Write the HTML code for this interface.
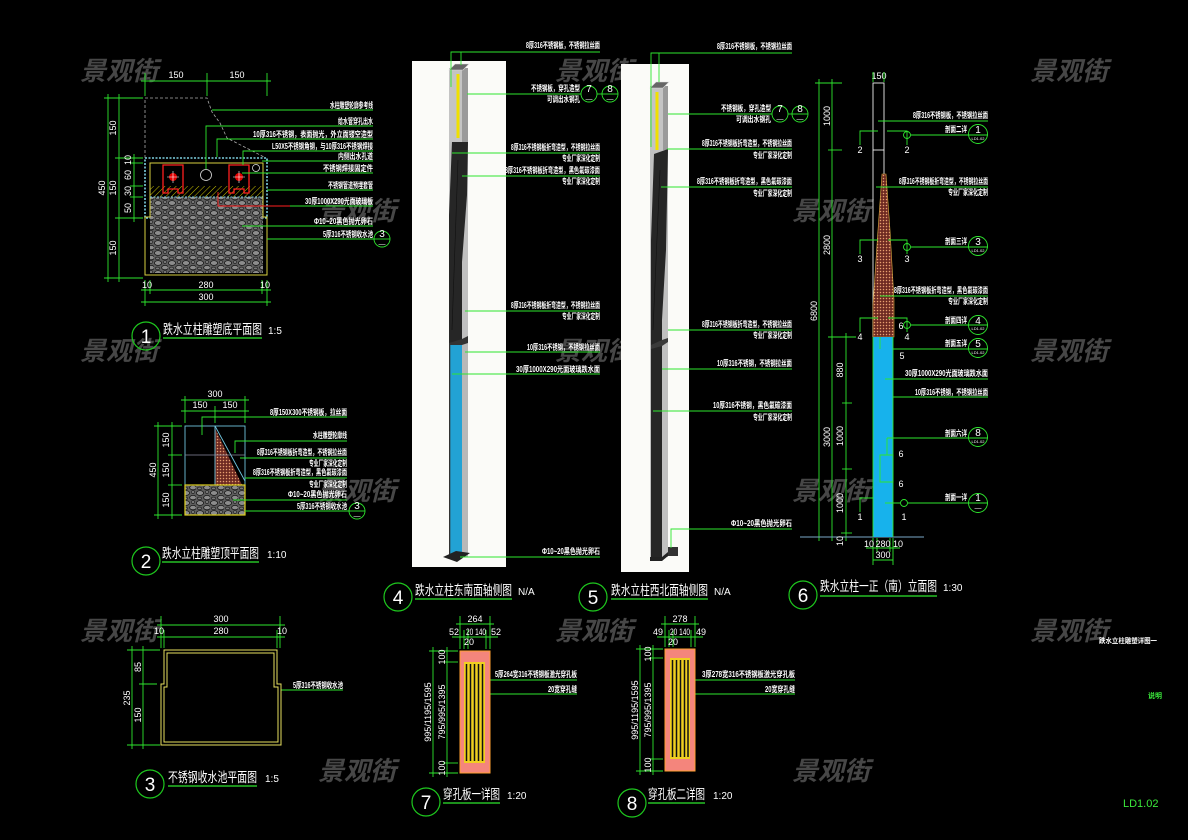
<!DOCTYPE html>
<html><head><meta charset="utf-8"><style>
html,body{margin:0;padding:0;background:#000;}
svg{display:block}
text{font-family:"Liberation Sans","Noto Sans CJK SC",sans-serif;fill:#fff;}
.s{font-size:8px;font-weight:bold;}
.d{font-size:9px;}
.t{font-size:13.5px;}
.sc{font-size:10px;}
.wm{font-size:26px;font-style:italic;font-weight:bold;fill:#474747;}
.g{stroke:#2ee62e;stroke-width:0.9;fill:none;}
.cn{font-size:19px;text-anchor:middle;}
</style></head><body>
<svg width="1188" height="840" viewBox="0 0 1188 840" xmlns="http://www.w3.org/2000/svg">
<defs>
<pattern id="gr" width="14" height="10" patternUnits="userSpaceOnUse">
<rect width="14" height="10" fill="#5e5e5e"/>
<ellipse cx="4" cy="3" rx="3.6" ry="2.4" fill="#8c8c8c" stroke="#151515" stroke-width="0.8"/>
<ellipse cx="11" cy="7.6" rx="3.4" ry="2.2" fill="#8c8c8c" stroke="#151515" stroke-width="0.8"/>
<ellipse cx="11" cy="2" rx="1.8" ry="1.4" fill="#777" stroke="#151515" stroke-width="0.6"/>
<ellipse cx="3.5" cy="8.4" rx="2" ry="1.3" fill="#777" stroke="#151515" stroke-width="0.6"/>
</pattern>
<pattern id="ht" width="4" height="4" patternUnits="userSpaceOnUse" patternTransform="rotate(45)">
<rect width="4" height="4" fill="#000"/>
<line x1="0" y1="0" x2="0" y2="4" stroke="#c8c000" stroke-width="1"/>
</pattern>
<pattern id="rd" width="3" height="3" patternUnits="userSpaceOnUse">
<rect width="3" height="3" fill="#6e2a22"/>
<circle cx="1.5" cy="1.5" r="0.75" fill="#e8a070"/>
</pattern>
</defs>
<rect width="1188" height="840" fill="#000"/>

<!-- watermarks -->
<g>
<text class="wm" x="80" y="80">景观街</text>
<text class="wm" x="555" y="80">景观街</text>
<text class="wm" x="1030" y="80">景观街</text>
<text class="wm" x="318" y="220">景观街</text>
<text class="wm" x="792" y="220">景观街</text>
<text class="wm" x="80" y="360">景观街</text>
<text class="wm" x="555" y="360">景观街</text>
<text class="wm" x="1030" y="360">景观街</text>
<text class="wm" x="318" y="500">景观街</text>
<text class="wm" x="792" y="500">景观街</text>
<text class="wm" x="80" y="640">景观街</text>
<text class="wm" x="555" y="640">景观街</text>
<text class="wm" x="1030" y="640">景观街</text>
<text class="wm" x="318" y="780">景观街</text>
<text class="wm" x="792" y="780">景观街</text>
</g>

<!-- ================= DETAIL 1 ================= -->
<g>
<g class="g">
<line x1="141" y1="81" x2="271" y2="81"/>
<line x1="145" y1="73" x2="145" y2="96"/>
<line x1="207" y1="73" x2="207" y2="96"/>
<line x1="267" y1="73" x2="267" y2="96"/>
<line x1="108" y1="94" x2="108" y2="282"/>
<line x1="119" y1="94" x2="119" y2="282"/>
<line x1="134" y1="154" x2="134" y2="222"/>
<line x1="104" y1="98" x2="143" y2="98"/>
<line x1="104" y1="278" x2="143" y2="278"/>
<line x1="115" y1="158" x2="143" y2="158"/>
<line x1="115" y1="218" x2="143" y2="218"/>
<line x1="130" y1="163" x2="143" y2="163"/>
<line x1="130" y1="186" x2="143" y2="186"/>
<line x1="130" y1="197" x2="143" y2="197"/>
<line x1="141" y1="290" x2="271" y2="290"/>
<line x1="141" y1="302" x2="271" y2="302"/>
<line x1="145" y1="280" x2="145" y2="306"/>
<line x1="150" y1="280" x2="150" y2="294"/>
<line x1="262" y1="280" x2="262" y2="294"/>
<line x1="267" y1="280" x2="267" y2="306"/>
</g>
<text class="d" x="176" y="78" text-anchor="middle">150</text>
<text class="d" x="237" y="78" text-anchor="middle">150</text>
<text class="d" transform="translate(105,188) rotate(-90)" text-anchor="middle">450</text>
<text class="d" transform="translate(116,128) rotate(-90)" text-anchor="middle">150</text>
<text class="d" transform="translate(116,188) rotate(-90)" text-anchor="middle">150</text>
<text class="d" transform="translate(116,248) rotate(-90)" text-anchor="middle">150</text>
<text class="d" transform="translate(131,160) rotate(-90)" text-anchor="middle">10</text>
<text class="d" transform="translate(131,175) rotate(-90)" text-anchor="middle">60</text>
<text class="d" transform="translate(131,191) rotate(-90)" text-anchor="middle">30</text>
<text class="d" transform="translate(131,208) rotate(-90)" text-anchor="middle">50</text>
<text class="d" x="147" y="288" text-anchor="middle">10</text>
<text class="d" x="206" y="288" text-anchor="middle">280</text>
<text class="d" x="265" y="288" text-anchor="middle">10</text>
<text class="d" x="206" y="300" text-anchor="middle">300</text>
<!-- shape -->
<path d="M145,158 L145,98 L207,98 L212,112 L220,123 L227,138 L264,157" fill="none" stroke="#aaa" stroke-width="0.8" stroke-dasharray="3 2"/>
<rect x="145" y="158" width="122" height="60" fill="none" stroke="#7ecfe0" stroke-width="1.6" stroke-dasharray="2 1.5"/>
<rect x="150" y="186" width="113" height="11" fill="url(#ht)"/>
<rect x="150" y="197" width="113" height="76" fill="url(#gr)"/>
<path d="M150,163 L150,217 L145,217 L145,275 L267,275 L267,217 L263,217 L263,163 Z" fill="none" stroke="#d8d040" stroke-width="1"/>
<line x1="150" y1="197" x2="263" y2="197" stroke="#7ecfe0" stroke-width="1" stroke-dasharray="2 1.5"/>
<path d="M163,165 h20 v28 h-5 v-4 h-10 v4 h-5 z" fill="none" stroke="#ff2020" stroke-width="1.3"/>
<circle cx="173" cy="177" r="4" fill="#e00000"/>
<path d="M167,177 h12 M173,171 v12" stroke="#fff" stroke-width="0.6"/>
<path d="M229,165 h20 v28 h-5 v-4 h-10 v4 h-5 z" fill="none" stroke="#ff2020" stroke-width="1.3"/>
<circle cx="239" cy="177" r="4" fill="#e00000"/>
<path d="M233,177 h12 M239,171 v12" stroke="#fff" stroke-width="0.6"/>
<circle cx="206" cy="175" r="5.5" fill="none" stroke="#ddd" stroke-width="0.8"/>
<circle cx="256" cy="168" r="3.5" fill="none" stroke="#ddd" stroke-width="0.8"/>
<!-- leaders -->
<g class="g">
<path d="M212,110 H373"/>
<path d="M206,169 V126 H373"/>
<path d="M217,157 V139 H373"/>
<path d="M243,165 V151 H373"/>
<path d="M262,161 H373"/>
<path d="M242,173 H373"/>
<path d="M267,190 H373"/>
<path d="M290,206 H373"/>
<path d="M242,226 H373"/>
<path d="M267,239 H374"/>
</g>
<path d="M218,192 V206 H290" fill="none" stroke="#ff2020" stroke-width="0.9"/>
<text class="s" x="330" y="108" textLength="43" lengthAdjust="spacingAndGlyphs">水柱雕塑轮廓参考线</text>
<text class="s" x="338" y="124" textLength="35" lengthAdjust="spacingAndGlyphs">给水管穿孔出水</text>
<text class="s" x="253" y="137" textLength="120" lengthAdjust="spacingAndGlyphs">10厚316不锈钢，表面抛光，外立面镂空造型</text>
<text class="s" x="272" y="149" textLength="101" lengthAdjust="spacingAndGlyphs">L50X5不锈钢角钢，与10厚316不锈钢焊接</text>
<text class="s" x="338" y="159" textLength="35" lengthAdjust="spacingAndGlyphs">内侧出水孔道</text>
<text class="s" x="323" y="171" textLength="50" lengthAdjust="spacingAndGlyphs">不锈钢焊接固定件</text>
<text class="s" x="328" y="188" textLength="45" lengthAdjust="spacingAndGlyphs">不锈钢管道预埋套管</text>
<text class="s" x="305" y="204" textLength="68" lengthAdjust="spacingAndGlyphs">30厚1000X290光面玻璃板</text>
<text class="s" x="314" y="224" textLength="59" lengthAdjust="spacingAndGlyphs">Φ10~20黑色抛光卵石</text>
<text class="s" x="323" y="237" textLength="50" lengthAdjust="spacingAndGlyphs">5厚316不锈钢收水池</text>
<circle cx="382" cy="239" r="8" class="g"/>
<line x1="374" y1="239" x2="390" y2="239" class="g"/>
<text x="382" y="237" font-size="10" text-anchor="middle">3</text>
<text x="382" y="246" font-size="7" text-anchor="middle">—</text>
<!-- title -->
<circle cx="146" cy="336" r="14" class="g" style="stroke:#1ec81e;stroke-width:1.2"/>
<text class="cn" x="146" y="343">1</text>
<text class="t" x="163" y="334" textLength="99" lengthAdjust="spacingAndGlyphs">跌水立柱雕塑底平面图</text>
<text class="sc" x="268" y="334">1:5</text>
<line x1="163" y1="338" x2="262" y2="338" stroke="#2ee62e" stroke-width="1.2"/>
</g>

<!-- ================= DETAIL 2 ================= -->
<g>
<g class="g">
<line x1="181" y1="400" x2="249" y2="400"/>
<line x1="181" y1="411" x2="249" y2="411"/>
<line x1="185" y1="396" x2="185" y2="423"/>
<line x1="215" y1="406" x2="215" y2="423"/>
<line x1="245" y1="396" x2="245" y2="423"/>
<line x1="158" y1="422" x2="158" y2="519"/>
<line x1="172" y1="422" x2="172" y2="519"/>
<line x1="154" y1="426" x2="182" y2="426"/>
<line x1="168" y1="455" x2="182" y2="455"/>
<line x1="168" y1="485" x2="182" y2="485"/>
<line x1="154" y1="515" x2="182" y2="515"/>
</g>
<text class="d" x="215" y="397" text-anchor="middle">300</text>
<text class="d" x="200" y="408" text-anchor="middle">150</text>
<text class="d" x="230" y="408" text-anchor="middle">150</text>
<text class="d" transform="translate(156,470) rotate(-90)" text-anchor="middle">450</text>
<text class="d" transform="translate(169,440) rotate(-90)" text-anchor="middle">150</text>
<text class="d" transform="translate(169,470) rotate(-90)" text-anchor="middle">150</text>
<text class="d" transform="translate(169,500) rotate(-90)" text-anchor="middle">150</text>
<polygon points="215,428 242,485 215,485" fill="url(#rd)"/>
<rect x="185" y="426" width="60" height="59" fill="none" stroke="#6fc3dc" stroke-width="0.9"/>
<line x1="215" y1="426" x2="215" y2="485" stroke="#6fc3dc" stroke-width="0.9"/>
<line x1="215" y1="426" x2="245" y2="481" stroke="#6fc3dc" stroke-width="0.9"/>
<line x1="185" y1="455" x2="245" y2="455" stroke="#8a8aa0" stroke-width="0.8"/>
<rect x="185" y="485" width="60" height="30" fill="url(#gr)" stroke="#e0d020" stroke-width="1.2"/>
<g class="g">
<path d="M202,435 V417 H347"/>
<path d="M235,453 V441 H347"/>
<path d="M240,458 H347"/>
<path d="M245,478 H347"/>
<path d="M233,500 H347"/>
<path d="M245,511 H349"/>
</g>
<text class="s" x="270" y="415" textLength="77" lengthAdjust="spacingAndGlyphs">8厚150X300不锈钢板，拉丝面</text>
<text class="s" x="313" y="438" textLength="34" lengthAdjust="spacingAndGlyphs">水柱雕塑轮廓线</text>
<text class="s" x="257" y="455" textLength="90" lengthAdjust="spacingAndGlyphs">8厚316不锈钢板折弯造型，不锈钢拉丝面</text>
<text class="s" x="309" y="466" textLength="38" lengthAdjust="spacingAndGlyphs">专业厂家深化定制</text>
<text class="s" x="253" y="475" textLength="94" lengthAdjust="spacingAndGlyphs">8厚316不锈钢板折弯造型，黑色氟碳漆面</text>
<text class="s" x="309" y="487" textLength="38" lengthAdjust="spacingAndGlyphs">专业厂家深化定制</text>
<text class="s" x="288" y="497" textLength="59" lengthAdjust="spacingAndGlyphs">Φ10~20黑色抛光卵石</text>
<text class="s" x="297" y="509" textLength="50" lengthAdjust="spacingAndGlyphs">5厚316不锈钢收水池</text>
<circle cx="357" cy="511" r="8" class="g"/>
<line x1="349" y1="511" x2="365" y2="511" class="g"/>
<text x="357" y="509" font-size="10" text-anchor="middle">3</text>
<text x="357" y="518" font-size="7" text-anchor="middle">—</text>
<circle cx="146" cy="561" r="14" class="g" style="stroke:#1ec81e;stroke-width:1.2"/>
<text class="cn" x="146" y="568">2</text>
<text class="t" x="162" y="558" textLength="97" lengthAdjust="spacingAndGlyphs">跌水立柱雕塑顶平面图</text>
<text class="sc" x="267" y="558">1:10</text>
<line x1="162" y1="562" x2="259" y2="562" stroke="#2ee62e" stroke-width="1.2"/>
</g>

<!-- ================= DETAIL 3 ================= -->
<g>
<g class="g">
<line x1="157" y1="625" x2="285" y2="625"/>
<line x1="157" y1="637" x2="285" y2="637"/>
<line x1="161" y1="616" x2="161" y2="648"/>
<line x1="164" y1="630" x2="164" y2="648"/>
<line x1="277" y1="630" x2="277" y2="648"/>
<line x1="280" y1="616" x2="280" y2="648"/>
<line x1="132" y1="646" x2="132" y2="749"/>
<line x1="143" y1="646" x2="143" y2="749"/>
<line x1="127" y1="650" x2="160" y2="650"/>
<line x1="139" y1="684" x2="157" y2="684"/>
<line x1="127" y1="745" x2="160" y2="745"/>
<path d="M281,690 H343"/>
</g>
<text class="d" x="221" y="622" text-anchor="middle">300</text>
<text class="d" x="159" y="634" text-anchor="middle">10</text>
<text class="d" x="221" y="634" text-anchor="middle">280</text>
<text class="d" x="282" y="634" text-anchor="middle">10</text>
<text class="d" transform="translate(130,698) rotate(-90)" text-anchor="middle">235</text>
<text class="d" transform="translate(141,667) rotate(-90)" text-anchor="middle">85</text>
<text class="d" transform="translate(141,715) rotate(-90)" text-anchor="middle">150</text>
<path d="M164,650 H277 V684 H281 V745 H161 V684 H164 Z" fill="none" stroke="#e8e060" stroke-width="1"/>
<path d="M167,653 H274 V687 H278 V742 H164 V687 H167 Z" fill="none" stroke="#e8e060" stroke-width="1"/>
<text class="s" x="293" y="688" textLength="50" lengthAdjust="spacingAndGlyphs">5厚316不锈钢收水池</text>
<circle cx="150" cy="784" r="14" class="g" style="stroke:#1ec81e;stroke-width:1.2"/>
<text class="cn" x="150" y="791">3</text>
<text class="t" x="168" y="782" textLength="89" lengthAdjust="spacingAndGlyphs">不锈钢收水池平面图</text>
<text class="sc" x="265" y="782">1:5</text>
<line x1="168" y1="786" x2="257" y2="786" stroke="#2ee62e" stroke-width="1.2"/>
</g>

<!-- ================= DETAIL 4 ================= -->
<g>
<rect x="412" y="61" width="94" height="506" fill="#fbfbf8"/>
<!-- cap -->
<rect x="449" y="68" width="19" height="75" fill="#c4c4c4"/>
<rect x="462" y="68" width="6" height="75" fill="#9a9a9a"/>
<rect x="456.5" y="74" width="3" height="64" fill="#f0e000"/>
<polygon points="449,70 455,64 469,64 463,70" fill="#666" stroke="#ddd" stroke-width="0.6"/>
<!-- twisted body -->
<rect x="449" y="142" width="19" height="201" fill="#c0c0c0"/>
<polygon points="452,142 468,142 467,195 462,262 462,343 449,343 449,215" fill="#262626"/>
<line x1="458" y1="160" x2="452" y2="330" stroke="#111" stroke-width="0.6"/>
<!-- lower -->
<rect x="450" y="343" width="12" height="214" fill="#22a2d4"/>
<rect x="462" y="343" width="6" height="214" fill="#b8b8b8"/>
<rect x="449" y="343" width="1.3" height="214" fill="#333"/>
<polygon points="449,343 462,339 468,336 468,343 462,345 449,345" fill="#333"/>
<polygon points="443,557 456,551 470,553 457,562" fill="#222"/>
<g class="g">
<path d="M451,87 V52 H600"/>
<path d="M461,65 V52"/>
<path d="M467,94 H581"/>
<path d="M597,94 H602"/>
<path d="M452,153 H600"/>
<path d="M462,176 H600"/>
<path d="M465,311 H600"/>
<path d="M465,352 H600"/>
<path d="M452,374 H600"/>
<path d="M460,557 H600"/>
</g>
<circle cx="589" cy="94" r="8" class="g"/>
<circle cx="610" cy="94" r="8" class="g"/>
<line x1="602" y1="94" x2="618" y2="94" class="g"/>
<text x="589" y="92" font-size="10" text-anchor="middle">7</text>
<text x="610" y="92" font-size="10" text-anchor="middle">8</text>
<text x="589" y="101" font-size="7" text-anchor="middle">—</text>
<text x="610" y="101" font-size="7" text-anchor="middle">—</text>
<text class="s" x="526" y="48" textLength="74" lengthAdjust="spacingAndGlyphs">8厚316不锈钢板，不锈钢拉丝面</text>
<text class="s" x="531" y="91" textLength="49" lengthAdjust="spacingAndGlyphs">不锈钢板，穿孔造型</text>
<text class="s" x="547" y="102" textLength="33" lengthAdjust="spacingAndGlyphs">可调出水钢孔</text>
<text class="s" x="511" y="150" textLength="89" lengthAdjust="spacingAndGlyphs">8厚316不锈钢板折弯造型，不锈钢拉丝面</text>
<text class="s" x="562" y="161" textLength="38" lengthAdjust="spacingAndGlyphs">专业厂家深化定制</text>
<text class="s" x="505" y="173" textLength="95" lengthAdjust="spacingAndGlyphs">8厚316不锈钢板折弯造型，黑色氟碳漆面</text>
<text class="s" x="562" y="184" textLength="38" lengthAdjust="spacingAndGlyphs">专业厂家深化定制</text>
<text class="s" x="511" y="308" textLength="89" lengthAdjust="spacingAndGlyphs">8厚316不锈钢板折弯造型，不锈钢拉丝面</text>
<text class="s" x="562" y="319" textLength="38" lengthAdjust="spacingAndGlyphs">专业厂家深化定制</text>
<text class="s" x="527" y="350" textLength="73" lengthAdjust="spacingAndGlyphs">10厚316不锈钢，不锈钢拉丝面</text>
<text class="s" x="516" y="372" textLength="84" lengthAdjust="spacingAndGlyphs">30厚1000X290光面玻璃跌水面</text>
<text class="s" x="542" y="554" textLength="58" lengthAdjust="spacingAndGlyphs">Φ10~20黑色抛光卵石</text>
<circle cx="398" cy="597" r="14" class="g" style="stroke:#1ec81e;stroke-width:1.2"/>
<text class="cn" x="398" y="604">4</text>
<text class="t" x="415" y="595" textLength="97" lengthAdjust="spacingAndGlyphs">跌水立柱东南面轴侧图</text>
<text class="sc" x="518" y="595">N/A</text>
<line x1="415" y1="599" x2="512" y2="599" stroke="#2ee62e" stroke-width="1.2"/>
</g>

<!-- ================= DETAIL 5 ================= -->
<g>
<rect x="621" y="64" width="68" height="508" fill="#fbfbf8"/>
<rect x="650" y="86" width="18" height="66" fill="#c4c4c4"/>
<rect x="663" y="86" width="5" height="66" fill="#9a9a9a"/>
<rect x="655.5" y="92" width="3" height="58" fill="#f0e000"/>
<polygon points="650,88 656,82 669,82 663,88" fill="#666" stroke="#ddd" stroke-width="0.6"/>
<rect x="650" y="150" width="18" height="407" fill="#c0c0c0"/>
<polygon points="654,154 668,149 666,250 662,320 662,557 651,557 651,240" fill="#262626"/>
<line x1="660" y1="170" x2="653" y2="330" stroke="#111" stroke-width="0.6"/>
<polygon points="651,345 662,340 668,338 668,342 662,346 651,349" fill="#3a3a3a"/>
<rect x="668" y="547" width="10" height="9" fill="#333"/>
<polygon points="650,557 662,557 668,552 668,556 662,561 650,561" fill="#222"/>
<g class="g">
<path d="M651,147 V53 H792"/>
<path d="M659,82 V53"/>
<path d="M668,114 H772"/>
<path d="M788,114 H792"/>
<path d="M667,149 H792"/>
<path d="M661,187 H792"/>
<path d="M668,330 H792"/>
<path d="M662,369 H792"/>
<path d="M653,411 H792"/>
<path d="M671,548 V529 H792"/>
</g>
<circle cx="780" cy="114" r="8" class="g"/>
<circle cx="800" cy="114" r="8" class="g"/>
<line x1="792" y1="114" x2="808" y2="114" class="g"/>
<text x="780" y="112" font-size="10" text-anchor="middle">7</text>
<text x="800" y="112" font-size="10" text-anchor="middle">8</text>
<text x="780" y="121" font-size="7" text-anchor="middle">—</text>
<text x="800" y="121" font-size="7" text-anchor="middle">—</text>
<text class="s" x="717" y="49" textLength="75" lengthAdjust="spacingAndGlyphs">8厚316不锈钢板，不锈钢拉丝面</text>
<text class="s" x="721" y="111" textLength="50" lengthAdjust="spacingAndGlyphs">不锈钢板，穿孔造型</text>
<text class="s" x="736" y="122" textLength="35" lengthAdjust="spacingAndGlyphs">可调出水钢孔</text>
<text class="s" x="702" y="146" textLength="90" lengthAdjust="spacingAndGlyphs">8厚316不锈钢板折弯造型，不锈钢拉丝面</text>
<text class="s" x="753" y="158" textLength="39" lengthAdjust="spacingAndGlyphs">专业厂家深化定制</text>
<text class="s" x="697" y="184" textLength="95" lengthAdjust="spacingAndGlyphs">8厚316不锈钢板折弯造型，黑色氟碳漆面</text>
<text class="s" x="753" y="196" textLength="39" lengthAdjust="spacingAndGlyphs">专业厂家深化定制</text>
<text class="s" x="702" y="327" textLength="90" lengthAdjust="spacingAndGlyphs">8厚316不锈钢板折弯造型，不锈钢拉丝面</text>
<text class="s" x="753" y="338" textLength="39" lengthAdjust="spacingAndGlyphs">专业厂家深化定制</text>
<text class="s" x="717" y="366" textLength="75" lengthAdjust="spacingAndGlyphs">10厚316不锈钢，不锈钢拉丝面</text>
<text class="s" x="713" y="408" textLength="79" lengthAdjust="spacingAndGlyphs">10厚316不锈钢，黑色氟碳漆面</text>
<text class="s" x="753" y="420" textLength="39" lengthAdjust="spacingAndGlyphs">专业厂家深化定制</text>
<text class="s" x="731" y="526" textLength="61" lengthAdjust="spacingAndGlyphs">Φ10~20黑色抛光卵石</text>
<circle cx="593" cy="597" r="14" class="g" style="stroke:#1ec81e;stroke-width:1.2"/>
<text class="cn" x="593" y="604">5</text>
<text class="t" x="611" y="595" textLength="97" lengthAdjust="spacingAndGlyphs">跌水立柱西北面轴侧图</text>
<text class="sc" x="714" y="595">N/A</text>
<line x1="611" y1="599" x2="708" y2="599" stroke="#2ee62e" stroke-width="1.2"/>
</g>

<!-- ================= DETAIL 6 ================= -->
<g>
<!-- left dims -->
<g class="g">
<line x1="819" y1="79" x2="819" y2="541"/>
<line x1="832" y1="79" x2="832" y2="541"/>
<line x1="846" y1="333" x2="846" y2="541"/>
<line x1="815" y1="83" x2="842" y2="83"/>
<line x1="828" y1="150" x2="842" y2="150"/>
<line x1="828" y1="337" x2="856" y2="337"/>
<line x1="842" y1="403" x2="852" y2="403"/>
<line x1="842" y1="469" x2="852" y2="469"/>
<line x1="841" y1="533" x2="852" y2="533"/>
</g>
<line x1="800" y1="537" x2="924" y2="537" stroke="#7aa8c8" stroke-width="1"/>
<text class="d" transform="translate(830,116) rotate(-90)" text-anchor="middle">1000</text>
<text class="d" transform="translate(830,245) rotate(-90)" text-anchor="middle">2800</text>
<text class="d" transform="translate(817,311) rotate(-90)" text-anchor="middle">6800</text>
<text class="d" transform="translate(830,437) rotate(-90)" text-anchor="middle">3000</text>
<text class="d" transform="translate(843,370) rotate(-90)" text-anchor="middle">880</text>
<text class="d" transform="translate(843,436) rotate(-90)" text-anchor="middle">1000</text>
<text class="d" transform="translate(843,503) rotate(-90)" text-anchor="middle">1000</text>
<text class="d" transform="translate(843,541) rotate(-90)" text-anchor="middle">10</text>
<!-- column -->
<text class="d" x="879" y="79" text-anchor="middle">150</text>
<line x1="873" y1="72" x2="873" y2="82" class="g"/>
<line x1="884" y1="72" x2="884" y2="82" class="g"/>
<rect x="873" y="83" width="11" height="67" fill="none" stroke="#eee" stroke-width="0.9"/>
<line x1="873" y1="150" x2="873" y2="337" stroke="#eee" stroke-width="0.9"/>
<line x1="884" y1="150" x2="884" y2="178" stroke="#eee" stroke-width="0.9"/>
<polygon points="882,174 886,174 890,230 894,300 894,337 873,337 873,305 878,230" fill="url(#rd)" stroke="#d8a840" stroke-width="0.6"/>
<rect x="873" y="337" width="20" height="200" fill="#17b2ec"/>
<line x1="873" y1="337" x2="873" y2="537" stroke="#2ee62e" stroke-width="0.9"/>
<line x1="893" y1="337" x2="893" y2="537" stroke="#2ee62e" stroke-width="0.9"/>
<!-- section marks -->
<g class="g">
<path d="M860,145 V131 H878"/>
<path d="M887,131 H907 V145"/>
<path d="M860,254 V240 H878"/>
<path d="M888,240 H907 V254"/>
<path d="M860,332 V318 H878"/>
<path d="M888,318 H907 V332"/>
<path d="M860,512 V498 H873"/>
<path d="M880,337 V349"/>
<path d="M880,455 H893 V482 H880 Z"/>
<path d="M887,438 V455"/>
</g>
<text class="d" x="860" y="153" text-anchor="middle">2</text>
<text class="d" x="907" y="153" text-anchor="middle">2</text>
<text class="d" x="860" y="262" text-anchor="middle">3</text>
<text class="d" x="907" y="262" text-anchor="middle">3</text>
<text class="d" x="860" y="340" text-anchor="middle">4</text>
<text class="d" x="907" y="340" text-anchor="middle">4</text>
<text class="d" x="901" y="329" text-anchor="middle">6</text>
<text class="d" x="902" y="359" text-anchor="middle">5</text>
<text class="d" x="901" y="457" text-anchor="middle">6</text>
<text class="d" x="901" y="487" text-anchor="middle">6</text>
<text class="d" x="860" y="520" text-anchor="middle">1</text>
<text class="d" x="904" y="520" text-anchor="middle">1</text>
<g class="g">
<circle cx="907" cy="135" r="3.5"/>
<circle cx="907" cy="247" r="3.5"/>
<circle cx="907" cy="325" r="3.5"/>
<circle cx="904" cy="503" r="3.5"/>
<path d="M878,121 H988"/>
<path d="M911,135 H969"/>
<path d="M876,187 H988"/>
<path d="M911,247 H969"/>
<path d="M880,296 H988"/>
<path d="M911,325 H969"/>
<path d="M893,349 H969"/>
<path d="M885,379 H988"/>
<path d="M893,397 H988"/>
<path d="M887,438 H969"/>
<path d="M885,503 H900 M908,503 H969"/>
</g>
<g class="g">
<circle cx="978" cy="134" r="9.5"/><line x1="968" y1="135" x2="988" y2="135"/>
<circle cx="978" cy="246" r="9.5"/><line x1="968" y1="247" x2="988" y2="247"/>
<circle cx="978" cy="325" r="9.5"/><line x1="968" y1="325" x2="988" y2="325"/>
<circle cx="978" cy="348" r="9.5"/><line x1="968" y1="349" x2="988" y2="349"/>
<circle cx="978" cy="437" r="9.5"/><line x1="968" y1="438" x2="988" y2="438"/>
<circle cx="978" cy="503" r="9.5"/><line x1="968" y1="503" x2="988" y2="503"/>
</g>
<g font-size="10" text-anchor="middle">
<text x="978" y="133">1</text>
<text x="978" y="245">3</text>
<text x="978" y="324">4</text>
<text x="978" y="347">5</text>
<text x="978" y="436">8</text>
<text x="978" y="501">1</text>
</g>
<g font-size="4" text-anchor="middle">
<text x="978" y="140">LD1.02</text>
<text x="978" y="252">LD1.02</text>
<text x="978" y="330">LD1.02</text>
<text x="978" y="354">LD1.02</text>
<text x="978" y="443">LD1.02</text>
<text x="978" y="510" font-size="7">—</text>
</g>
<text class="s" x="913" y="118" textLength="75" lengthAdjust="spacingAndGlyphs">8厚316不锈钢板，不锈钢拉丝面</text>
<text class="s" x="945" y="132" textLength="22" lengthAdjust="spacingAndGlyphs">剖面二详</text>
<text class="s" x="899" y="184" textLength="89" lengthAdjust="spacingAndGlyphs">8厚316不锈钢板折弯造型，不锈钢拉丝面</text>
<text class="s" x="948" y="195" textLength="40" lengthAdjust="spacingAndGlyphs">专业厂家深化定制</text>
<text class="s" x="945" y="244" textLength="22" lengthAdjust="spacingAndGlyphs">剖面三详</text>
<text class="s" x="894" y="293" textLength="94" lengthAdjust="spacingAndGlyphs">8厚316不锈钢板折弯造型，黑色氟碳漆面</text>
<text class="s" x="948" y="304" textLength="40" lengthAdjust="spacingAndGlyphs">专业厂家深化定制</text>
<text class="s" x="945" y="323" textLength="22" lengthAdjust="spacingAndGlyphs">剖面四详</text>
<text class="s" x="945" y="346" textLength="22" lengthAdjust="spacingAndGlyphs">剖面五详</text>
<text class="s" x="905" y="376" textLength="83" lengthAdjust="spacingAndGlyphs">30厚1000X290光面玻璃跌水面</text>
<text class="s" x="915" y="395" textLength="73" lengthAdjust="spacingAndGlyphs">10厚316不锈钢，不锈钢拉丝面</text>
<text class="s" x="945" y="436" textLength="22" lengthAdjust="spacingAndGlyphs">剖面六详</text>
<text class="s" x="945" y="500" textLength="22" lengthAdjust="spacingAndGlyphs">剖面一详</text>
<!-- bottom dims -->
<g class="g">
<line x1="873" y1="538" x2="873" y2="565"/>
<line x1="877" y1="538" x2="877" y2="552"/>
<line x1="890" y1="538" x2="890" y2="552"/>
<line x1="893" y1="538" x2="893" y2="565"/>
<line x1="866" y1="548" x2="900" y2="548"/>
<line x1="873" y1="560" x2="893" y2="560"/>
</g>
<text class="d" x="869" y="547" text-anchor="middle">10</text>
<text class="d" x="883" y="547" text-anchor="middle">280</text>
<text class="d" x="898" y="547" text-anchor="middle">10</text>
<text class="d" x="883" y="558" text-anchor="middle">300</text>
<circle cx="803" cy="595" r="14" class="g" style="stroke:#1ec81e;stroke-width:1.2"/>
<text class="cn" x="803" y="602">6</text>
<text class="t" x="820" y="591" textLength="117" lengthAdjust="spacingAndGlyphs">跌水立柱一正（南）立面图</text>
<text class="sc" x="943" y="591">1:30</text>
<line x1="820" y1="596" x2="937" y2="596" stroke="#2ee62e" stroke-width="1.2"/>
</g>

<!-- ================= DETAIL 7 ================= -->
<g>
<g class="g">
<line x1="456" y1="624" x2="494" y2="624"/>
<line x1="452" y1="637" x2="498" y2="637"/>
<line x1="460" y1="616" x2="460" y2="649"/>
<line x1="464" y1="630" x2="464" y2="649"/>
<line x1="468" y1="630" x2="468" y2="649"/>
<line x1="486" y1="630" x2="486" y2="649"/>
<line x1="490" y1="616" x2="490" y2="649"/>
<line x1="433" y1="647" x2="433" y2="777"/>
<line x1="447" y1="647" x2="447" y2="777"/>
<line x1="429" y1="651" x2="458" y2="651"/>
<line x1="443" y1="662" x2="458" y2="662"/>
<line x1="443" y1="763" x2="458" y2="763"/>
<line x1="429" y1="773" x2="458" y2="773"/>
<path d="M487,680 H577"/>
<path d="M480,694 H577"/>
</g>
<text class="d" x="475" y="622" text-anchor="middle">264</text>
<text class="d" x="454" y="635" text-anchor="middle">52</text>
<text class="d" x="476" y="635" text-anchor="middle" textLength="20" lengthAdjust="spacingAndGlyphs">20 140</text>
<text class="d" x="496" y="635" text-anchor="middle">52</text>
<text class="d" x="469" y="645" text-anchor="middle">20</text>
<text class="d" transform="translate(431,712) rotate(-90)" text-anchor="middle">995/1195/1595</text>
<text class="d" transform="translate(445,712) rotate(-90)" text-anchor="middle">795/995/1395</text>
<text class="d" transform="translate(445,657) rotate(-90)" text-anchor="middle">100</text>
<text class="d" transform="translate(445,768) rotate(-90)" text-anchor="middle">100</text>
<rect x="460" y="651" width="30" height="122" fill="#f4857c" stroke="#ffa030" stroke-width="1"/>
<rect x="464" y="662" width="21" height="101" fill="#f0d020"/>
<g stroke="#111" stroke-width="1.5">
<line x1="466.5" y1="664" x2="466.5" y2="761"/>
<line x1="470.5" y1="664" x2="470.5" y2="761"/>
<line x1="474.5" y1="664" x2="474.5" y2="761"/>
<line x1="478.5" y1="664" x2="478.5" y2="761"/>
<line x1="482.5" y1="664" x2="482.5" y2="761"/>
</g>
<text class="s" x="495" y="677" textLength="82" lengthAdjust="spacingAndGlyphs">5厚264宽316不锈钢板激光穿孔板</text>
<text class="s" x="548" y="692" textLength="29" lengthAdjust="spacingAndGlyphs">20宽穿孔缝</text>
<circle cx="426" cy="802" r="14" class="g" style="stroke:#1ec81e;stroke-width:1.2"/>
<text class="cn" x="426" y="809">7</text>
<text class="t" x="443" y="799" textLength="57" lengthAdjust="spacingAndGlyphs">穿孔板一详图</text>
<text class="sc" x="507" y="799">1:20</text>
<line x1="443" y1="803" x2="500" y2="803" stroke="#2ee62e" stroke-width="1.2"/>
</g>

<!-- ================= DETAIL 8 ================= -->
<g>
<g class="g">
<line x1="661" y1="624" x2="699" y2="624"/>
<line x1="657" y1="637" x2="703" y2="637"/>
<line x1="665" y1="616" x2="665" y2="647"/>
<line x1="669" y1="630" x2="669" y2="647"/>
<line x1="673" y1="630" x2="673" y2="647"/>
<line x1="691" y1="630" x2="691" y2="647"/>
<line x1="695" y1="616" x2="695" y2="647"/>
<line x1="640" y1="645" x2="640" y2="775"/>
<line x1="653" y1="645" x2="653" y2="775"/>
<line x1="636" y1="649" x2="663" y2="649"/>
<line x1="649" y1="658" x2="663" y2="658"/>
<line x1="649" y1="759" x2="663" y2="759"/>
<line x1="636" y1="771" x2="663" y2="771"/>
<path d="M692,680 H795"/>
<path d="M686,694 H795"/>
</g>
<text class="d" x="680" y="622" text-anchor="middle">278</text>
<text class="d" x="658" y="635" text-anchor="middle">49</text>
<text class="d" x="680" y="635" text-anchor="middle" textLength="20" lengthAdjust="spacingAndGlyphs">20 140</text>
<text class="d" x="701" y="635" text-anchor="middle">49</text>
<text class="d" x="673" y="645" text-anchor="middle">20</text>
<text class="d" transform="translate(638,710) rotate(-90)" text-anchor="middle">995/1195/1595</text>
<text class="d" transform="translate(651,710) rotate(-90)" text-anchor="middle">795/995/1395</text>
<text class="d" transform="translate(651,654) rotate(-90)" text-anchor="middle">100</text>
<text class="d" transform="translate(651,765) rotate(-90)" text-anchor="middle">100</text>
<rect x="665" y="649" width="30" height="122" fill="#f4857c" stroke="#ffa030" stroke-width="1"/>
<rect x="670" y="658" width="20" height="101" fill="#f0d020"/>
<g stroke="#111" stroke-width="1.5">
<line x1="672.5" y1="660" x2="672.5" y2="757"/>
<line x1="676.5" y1="660" x2="676.5" y2="757"/>
<line x1="680.5" y1="660" x2="680.5" y2="757"/>
<line x1="684.5" y1="660" x2="684.5" y2="757"/>
<line x1="688" y1="660" x2="688" y2="757"/>
</g>
<text class="s" x="702" y="677" textLength="93" lengthAdjust="spacingAndGlyphs">3厚278宽316不锈钢板激光穿孔板</text>
<text class="s" x="765" y="692" textLength="30" lengthAdjust="spacingAndGlyphs">20宽穿孔缝</text>
<circle cx="632" cy="803" r="14" class="g" style="stroke:#1ec81e;stroke-width:1.2"/>
<text class="cn" x="632" y="810">8</text>
<text class="t" x="648" y="799" textLength="57" lengthAdjust="spacingAndGlyphs">穿孔板二详图</text>
<text class="sc" x="713" y="799">1:20</text>
<line x1="648" y1="803" x2="705" y2="803" stroke="#2ee62e" stroke-width="1.2"/>
</g>

<!-- right bottom -->
<text x="1099" y="643" font-size="7" font-weight="bold" textLength="58" lengthAdjust="spacingAndGlyphs">跌水立柱雕塑详图一</text>
<text x="1148" y="698" font-size="7" font-weight="bold" style="fill:#3be83b">说明</text>
<text x="1123" y="807" font-size="11" style="fill:#3be83b">LD1.02</text>
</svg>
</body></html>
